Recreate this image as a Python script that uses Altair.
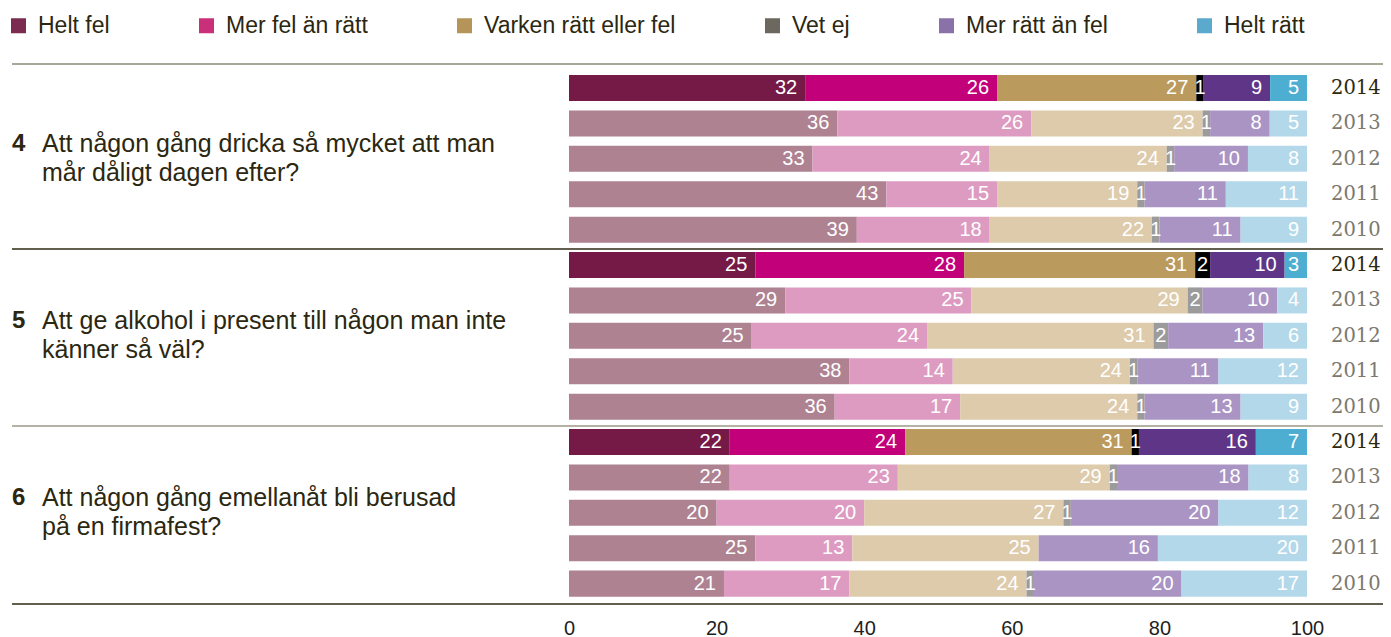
import altair as alt
import pandas as pd

categories = ["Helt fel", "Mer fel än rätt", "Varken rätt eller fel", "Vet ej", "Mer rätt än fel", "Helt rätt"]
years = ["2014", "2013", "2012", "2011", "2010"]
q_numbers = ["4", "5", "6"]
q_texts = [
    "Att någon gång dricka så mycket att man\nmår dåligt dagen efter?",
    "Att ge alkohol i present till någon man inte\nkänner så väl?",
    "Att någon gång emellanåt bli berusad\npå en firmafest?",
]

# values per year (2014, 2013, 2012, 2011, 2010), in category order
q4_values = [
    [32, 26, 27, 1, 9, 5],
    [36, 26, 23, 1, 8, 5],
    [33, 24, 24, 1, 10, 8],
    [43, 15, 19, 1, 11, 11],
    [39, 18, 22, 1, 11, 9],
]
q5_values = [
    [25, 28, 31, 2, 10, 3],
    [29, 25, 29, 2, 10, 4],
    [25, 24, 31, 2, 13, 6],
    [38, 14, 24, 1, 11, 12],
    [36, 17, 24, 1, 13, 9],
]
q6_values = [
    [22, 24, 31, 1, 16, 7],
    [22, 23, 29, 1, 18, 8],
    [20, 20, 27, 1, 20, 12],
    [25, 13, 25, 0, 16, 20],
    [21, 17, 24, 1, 20, 17],
]
x_ticks = [0, 20, 40, 60, 80, 100]

bar_dark = ["#751a47", "#c2007a", "#bb9a5e", "#000000", "#5f3687", "#4eaed1"]
bar_light = ["#ae8291", "#dd9bc2", "#ddcbac", "#9b9b9b", "#a994c4", "#b3d8ea"]
legend_colors = ["#7b2b4f", "#c93079", "#b59459", "#6c675f", "#8a72a8", "#5ba9cc"]

FONT = "Liberation Sans"
DARK = "#2b2710"

rows = []
keys = []
for qn, qv in zip(q_numbers, [q4_values, q5_values, q6_values]):
    for yr, vals in zip(years, qv):
        key = qn + "|" + yr
        keys.append(key)
        for ci, (cat, v) in enumerate(zip(categories, vals)):
            rows.append({"q": qn, "year": yr, "key": key, "cat": cat, "ci": ci, "value": v})
df = pd.DataFrame(rows)

ckeys = [c + "|a" for c in categories] + [c + "|b" for c in categories]
ccolors = bar_dark + bar_light

qdf = pd.DataFrame({"key": [n + "|2012" for n in q_numbers], "num": q_numbers, "txt": q_texts})

yscale = alt.Scale(paddingInner=0.265, paddingOuter=0.26, align=0.6)
y = alt.Y("key:N", sort=keys, axis=None, scale=yscale)
xscale = alt.Scale(domain=[0, 100], nice=False, zero=True)

base = (
    alt.Chart(df)
    .transform_joinaggregate(total="sum(value)", groupby=["key"])
    .transform_window(cum="sum(value)", groupby=["key"], sort=[alt.SortField("ci")], frame=[None, 0])
    .transform_calculate(x1="100*(datum.cum-datum.value)/datum.total")
    .transform_calculate(x2="100*datum.cum/datum.total")
    .transform_calculate(xm="(datum.x1+datum.x2)/2")
    .transform_calculate(ckey="datum.cat + (datum.year=='2014' ? '|a' : '|b')")
)

bars = base.mark_bar().encode(
    x=alt.X(
        "x1:Q",
        scale=xscale,
        title=None,
        axis=alt.Axis(
            values=x_ticks, domain=False, ticks=False, grid=False, labelFontSize=20,
            labelFont=FONT, labelColor="#1e1e1e", labelPadding=14, labelFlush=False,
        ),
    ),
    x2="x2:Q",
    y=y,
    color=alt.Color("ckey:N", scale=alt.Scale(domain=ckeys, range=ccolors), legend=None),
)

labels_big = base.transform_filter("datum.value >= 3").mark_text(
    align="right", dx=-8, color="white", fontSize=20, font=FONT
).encode(x=alt.X("x2:Q", scale=xscale), y=y, text="value:Q")

labels_small = base.transform_filter("datum.value > 0 && datum.value < 3").mark_text(
    align="center", color="white", fontSize=20, font=FONT
).encode(x=alt.X("xm:Q", scale=xscale), y=y, text="value:Q")

year_labels = base.transform_filter("datum.ci == 0").mark_text(
    align="left", font="DejaVu Serif", fontSize=19.5
).encode(
    x=alt.value(762),
    y=y,
    text="year:N",
    color=alt.condition("datum.year == '2014'", alt.value("#2b2a10"), alt.value("#7b786e")),
)

q_num = alt.Chart(qdf).mark_text(
    align="left", fontWeight="bold", fontSize=24, font=FONT, color=DARK, dy=-15
).encode(x=alt.value(-557), y=y, text="num:N")

q_txt = alt.Chart(qdf).mark_text(
    align="left", fontSize=25, font=FONT, color=DARK, lineBreak="\n", lineHeight=29, dy=-15
).encode(x=alt.value(-527), y=y, text="txt:N")

def hline(ypix, color):
    return alt.Chart(pd.DataFrame({"a": [0]})).mark_rule(color=color, strokeWidth=1.5).encode(
        x=alt.value(-557), x2=alt.value(818), y=alt.value(ypix)
    )

rules = hline(0, "#8c8a74") + hline(185, "#2e2a14") + hline(362, "#9b9886") + hline(540, "#2e2a14")

legend_layer = alt.Chart(pd.DataFrame({"cat": categories})).mark_square(opacity=0).encode(
    x=alt.value(0),
    y=alt.value(0),
    color=alt.Color(
        "cat:N",
        scale=alt.Scale(domain=categories, range=legend_colors),
        legend=alt.Legend(
            title=None, orient="none", legendX=-562, legendY=-50, direction="horizontal",
            labelFontSize=23, labelFont=FONT, labelColor=DARK, symbolType="square",
            symbolSize=225, symbolOpacity=1, symbolStrokeWidth=0, columnPadding=85,
            labelOffset=8, padding=0, labelLimit=400,
        ),
    ),
)

chart = (
    alt.layer(bars, labels_big, labels_small, year_labels, q_num, q_txt, rules, legend_layer)
    .resolve_scale(color="independent")
    .properties(
        width=738,
        height=540,
        padding={"left": 561, "top": 56, "right": 76, "bottom": 33},
        autosize=alt.AutoSizeParams(type="none"),
    )
    .configure_view(stroke=None)
)

chart.save("out.html", embed_options={"renderer": "svg", "actions": False})
